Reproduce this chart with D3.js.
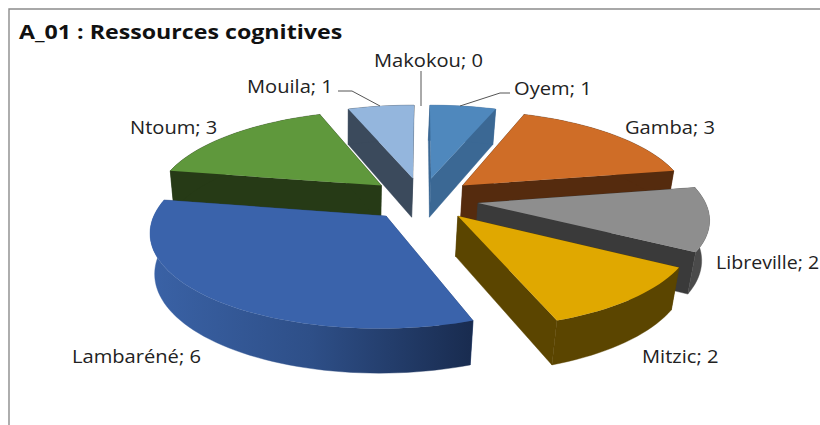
<!DOCTYPE html>
<html><head><meta charset="utf-8">
<script src="https://cdn.jsdelivr.net/npm/d3@7"></script>
<style>html,body{margin:0;padding:0;background:#fff;overflow:hidden}svg{display:block}</style>
</head><body><div id="c"></div>
<script>
const chartTitle = "A_01 : Ressources cognitives";
const categories = ["Makokou","Oyem","Gamba","Libreville","Mitzic","Lambaréné","Ntoum","Mouila"];
const values = [0,1,3,2,2,6,3,1];
const topColors = ["#4f81bd","#4f88bd","#cf6d27","#8e8e8e","#e0a800","#3a63ab","#5f983c","#94b6dd"];
const wallColors = ["#3b6894","#3b6894","#552b0e","#3a3a3a","#5b4500","#2b4a82","#263a16","#3b4a5c"];
const outerColors = ["#3b6894","#3b6894","#552b0e","#4a4a4a","#5b4500","url(#lamb)","#263a16","#3b4a5c"];
const explosions = [.24,.24,.24,.25,.24,.24,.24,.24];
const paintOrder = ["Oyem","Mouila","Gamba","Ntoum","Libreville","Lambaréné","Mitzic"];
const labelAnchors = [[374,67],[514,95],[625,134],[716,269],[642,363],[72,363],[130,134],[247,93]];
const labelStretch = [1.15,1.15,1.15,1.12,1.15,1.15,1.15,1.15];

const W=820,H=425;
const svg=d3.select("#c").append("svg").attr("width",W).attr("height",H);
const defs=svg.append("defs");
const g=defs.append("linearGradient").attr("id","lamb").attr("gradientUnits","userSpaceOnUse")
  .attr("x1",150).attr("x2",470).attr("y1",0).attr("y2",0);
g.append("stop").attr("offset",0).attr("stop-color","#3a62a6");
g.append("stop").attr("offset",.5).attr("stop-color","#2e4f88");
g.append("stop").attr("offset",1).attr("stop-color","#192c50");

// frame
svg.append("path").attr("d","M9,425V9H820").attr("fill","none").attr("stroke","#8c8c8c").attr("stroke-width",1.4);

// perspective projection of the tilted pie plane
const cx=422,cy=199,A=226,B=90,K=.15,Kz=.022,Depth=40.5,LowShift=-1.5;
const sx=d3.scaleLinear().domain([0,1]).range([cx,cx+A]);
const sy=d3.scaleLinear().domain([0,1]).range([cy,cy-B]);
function proj(X,Y,low){
  const w=1+K*Y+(low?Kz:0);
  return [sx(X/w)+(low?LowShift:0), sy(Y/w)+(low?Depth/w:0)];
}
const pie=d3.pie().sort(null).value(d=>d);
const arcs=pie(values);
const line=d3.line();
const stepA=Math.PI/90;

function slicePts(a,e){
  const m=(a.startAngle+a.endAngle)/2, ox=e*Math.sin(m), oy=e*Math.cos(m);
  const n=Math.max(2,Math.round((a.endAngle-a.startAngle)/stepA));
  const ang=d3.range(n+1).map(i=>a.startAngle+(a.endAngle-a.startAngle)*i/n);
  const rim=low=>ang.map(t=>proj(ox+Math.sin(t),oy+Math.cos(t),low));
  return {apexT:proj(ox,oy,false),apexB:proj(ox,oy,true),rimT:rim(false),rimB:rim(true)};
}
const closed=p=>line(p)+"Z";
const gp=svg.append("g");
paintOrder.forEach(name=>{
  const i=categories.indexOf(name), a=arcs[i], p=slicePts(a,explosions[i]);
  const s=gp.append("g").attr("class","slice");
  const wall=(pts,col)=>s.append("path").attr("d",closed(pts)).attr("fill",col).attr("stroke",col).attr("stroke-width",.4);
  wall([p.apexT,p.rimT[0],p.rimB[0],p.apexB],wallColors[i]);
  wall([p.apexT,p.rimT[p.rimT.length-1],p.rimB[p.rimB.length-1],p.apexB],wallColors[i]);
  wall(p.rimT.concat(p.rimB.slice().reverse()),outerColors[i]);
  s.append("path").attr("d",closed([p.apexT].concat(p.rimT))).attr("fill",topColors[i]);
});

// leader lines
const leaders=[[[421,71],[421,106]],[[338,91],[352,91],[380,106]],[[510,93],[500,93],[460,106]]];
svg.selectAll("path.leader").data(leaders).join("path").attr("class","leader")
  .attr("d",d=>line(d)).attr("fill","none").attr("stroke","#555").attr("stroke-width",1);

// labels (the source text is stretched horizontally)
svg.selectAll("text.lab").data(categories).join("text").attr("class","lab")
  .attr("transform",(d,i)=>`translate(${labelAnchors[i][0]},${labelAnchors[i][1]}) scale(${labelStretch[i]},1)`)
  .attr("font-family","'Open Sans',sans-serif").attr("font-size",17.5).attr("fill","#222")
  .text((d,i)=>d+"; "+values[i]);
svg.append("text").attr("transform","translate(19,39) scale(1.16,1)").attr("font-family","'Open Sans',sans-serif")
  .attr("font-weight",700).attr("font-size",20).attr("fill","#111").text(chartTitle);
</script></body></html>
